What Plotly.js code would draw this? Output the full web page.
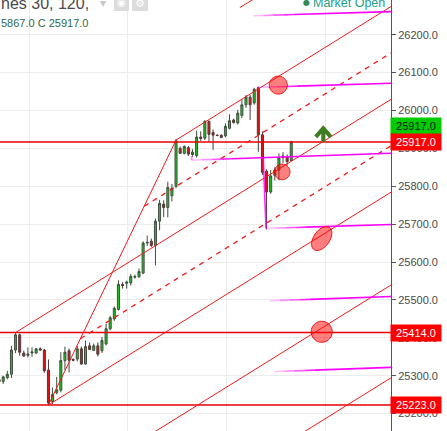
<!DOCTYPE html>
<html>
<head>
<meta charset="utf-8">
<script src="https://cdn.plot.ly/plotly-3.0.1.min.js"></script>
<style>
  html, body { margin: 0; padding: 0; background: #fff; }
  #chart { width: 447px; height: 431px; }
</style>
</head>
<body>
<div id="chart"></div>
<script>
// Dow Jones 30, 120-minute bars (bar number on x, oldest first)
const bars  = [0,1,2,3,4,5,6,7,8,9,10,11,12,13,14,15,16,17,18,19,20,21,22,23,24,25,26,27,28,29,30,31,32,33,34,35,
               36,37,38,39,40,41,42,43,44,45,46,47,48,49,50,51,52,53,54,55,56,57,58,59,60,61,62,63,64,65,66,67,68,69,70,71];
const open  = [25290,25285,25295,25304,25368,25408,25360,25354,25360,25360,25371,25368,25315,25232,25255,25262,25340,25366,
               25343,25344,25371,25331,25379,25367,25379,25366,25384,25424,25450,25475,25541,25544,25545,25560,25561,25571,
               25650,25655,25644,25708,25753,25744,25775,25800,25900,25887,25902,25884,25881,25930,25927,25971,25942,25935,
               25935,25933,25953,25975,25967,25987,26015,26035,26020,26060,25936,25840,25785,25829,25843,25880,25877,25868];
const high  = [25294,25300,25313,25379,25414,25411,25366,25375,25375,25373,25375,25371,25343,25269,25297,25362,25377,25372,
               25346,25379,25377,25393,25388,25385,25388,25402,25437,25458,25483,25552,25547,25551,25569,25567,25583,25655,
               25670,25662,25715,25764,25763,25812,25806,25925,25905,25908,25906,25898,25947,25945,25975,25974,25950,25937,
               25937,25966,25990,25978,26002,26030,26041,26041,26060,26063,25945,25845,25843,25850,25887,25890,25884,25920];
const low   = [25280,25278,25291,25294,25360,25353,25350,25348,25350,25357,25366,25308,25223,25225,25251,25256,25315,25309,
               25338,25338,25329,25329,25368,25365,25351,25360,25380,25420,25445,25472,25530,25530,25538,25556,25559,25568,
               25643,25640,25591,25684,25719,25718,25760,25795,25885,25884,25880,25878,25876,25920,25922,25918,25896,25932,
               25927,25929,25950,25966,25963,25980,26007,25975,26015,25891,25830,25686,25780,25815,25816,25862,25855,25867];
const close = [25284,25297,25304,25368,25408,25362,25352,25357,25363,25371,25368,25313,25228,25251,25263,25340,25362,25341,
               25341,25371,25331,25377,25369,25379,25357,25393,25424,25453,25478,25541,25538,25547,25562,25562,25575,25650,
               25652,25644,25708,25755,25744,25797,25795,25920,25887,25905,25885,25890,25930,25926,25971,25937,25935,25934,
               25929,25958,25973,25968,25993,26015,26035,26015,26056,25936,25837,25785,25827,25843,25876,25876,25865,25917];

// Session separators (vertical grid)
const sessionBreaks = [7.3, 31.3, 55.3, 79.3];

// Horizontal price levels
const levelPrices = [25917, 25414, 25223];

// Pitchfork anchors: pivot, upper, lower
const forkBars   = [4, 43, 12];
const forkPrices = [25414, 25922, 25223];
const forkLevels = [0.5, 1, 2, 3];

// Projection rays (magenta)
const rayStartBar   = [61.8, 62.6, 46.8, 64.9, 65.8, 66.9];
const rayStartPrice = [26250, 26061, 25869, 25689, 25498, 25311];
const rayEndPrice   = [26261, 26072, 25887, 25699, 25509, 25322];

// Highlight markers: bar, price, radius a, radius b (px), tilt (deg)
const markBar   = [67.85, 68.8, 78.4, 78.4];
const markPrice = [26067, 25838, 25662, 25416];
const markA     = [9, 7.8, 13.5, 10.5];
const markB     = [9, 7.8, 8, 10.5];
const markTilt  = [0, 0, 55, 0];

const xRange = [0.22, 95.24];
const yRange = [25154.2, 26291.6];
const plotW = 391, plotH = 431;
const pxPerBar = plotW / (xRange[1] - xRange[0]);
const unitsPerPx = (yRange[1] - yRange[0]) / plotH;

const RED = '#f01a1a';
const shapes = [];

// horizontal levels
levelPrices.forEach(p => shapes.push({
  type: 'line', xref: 'paper', x0: 0, x1: 1, yref: 'y', y0: p, y1: p,
  line: { color: '#e80000', width: 1.5 }
}));

// pitchfork
(function () {
  const A = { k: forkBars[0], p: forkPrices[0] };
  const B = { k: forkBars[1], p: forkPrices[1] };
  const C = { k: forkBars[2], p: forkPrices[2] };
  const M = { k: (B.k + C.k) / 2, p: (B.p + C.p) / 2 };
  const slope = (M.p - A.p) / (M.k - A.k);
  const xEnd = 130;
  const ray = (s, dash) => shapes.push({
    type: 'line', xref: 'x', yref: 'y', x0: s.k, y0: s.p, x1: xEnd, y1: s.p + slope * (xEnd - s.k),
    line: { color: RED, width: dash ? 1.3 : 1, dash: dash ? '5px,5px' : 'solid' }
  });
  ray(A, false);
  shapes.push({ type: 'line', xref: 'x', yref: 'y', x0: B.k, y0: B.p, x1: C.k, y1: C.p,
                line: { color: RED, width: 1 } });
  forkLevels.forEach(L => {
    [B, C].forEach(S => {
      ray({ k: M.k + L * (S.k - M.k), p: M.p + L * (S.p - M.p) }, L === 0.5);
    });
  });
})();

// magenta rays, fading in over their first ~40px
rayStartBar.forEach((k0, i) => {
  const p0 = rayStartPrice[i], k1 = xRange[1], p1 = rayEndPrice[i];
  const at = t => ({ k: k0 + (k1 - k0) * t, p: p0 + (p1 - p0) * t });
  const lenPx = (k1 - k0) * pxPerBar;
  const f = Math.min(0.6, 40 / lenPx);
  const steps = [[0, 0.25 * f, 0.25], [0.25 * f, 0.5 * f, 0.45], [0.5 * f, 0.75 * f, 0.65], [0.75 * f, f, 0.85], [f, 1, 1]];
  steps.forEach(([a, b, op]) => {
    const s = at(a), e = at(b);
    shapes.push({ type: 'line', xref: 'x', yref: 'y', x0: s.k, y0: s.p, x1: e.k, y1: e.p,
                  line: { color: `rgba(255,0,255,${op})`, width: 1.6 } });
  });
});
// magenta connectors
shapes.push({ type: 'line', xref: 'x', yref: 'y', x0: 64.2, y0: 25875, x1: 64.86, y1: 25689,
              line: { color: 'rgba(255,0,255,0.85)', width: 1.6 } });
shapes.push({ type: 'line', xref: 'x', yref: 'y', x0: 46.8, y0: 25880, x1: 46.8, y1: 25869,
              line: { color: 'rgba(255,0,255,0.5)', width: 1.6 } });

// highlight ellipses
function ellipsePath(kc, pc, a, b, deg) {
  const t = deg * Math.PI / 180;
  let d = '';
  for (let i = 0; i <= 60; i++) {
    const u = 2 * Math.PI * i / 60;
    const dx = a * Math.cos(u) * Math.cos(t) - b * Math.sin(u) * Math.sin(t);
    const dy = a * Math.cos(u) * Math.sin(t) + b * Math.sin(u) * Math.cos(t);
    d += (i ? 'L' : 'M') + (kc + dx / pxPerBar).toFixed(4) + ',' + (pc + dy * unitsPerPx).toFixed(2);
  }
  return d + 'Z';
}
markBar.forEach((k, i) => shapes.push({
  type: 'path', xref: 'x', yref: 'y',
  path: ellipsePath(k, markPrice[i], markA[i], markB[i], markTilt[i]),
  fillcolor: 'rgba(255,0,0,0.5)', line: { color: 'rgba(235,0,0,0.9)', width: 1 }
}));

// up arrow
(function () {
  const kc = 78.78, pc = 25937;
  const pt = (dx, dy) => (kc + dx / pxPerBar).toFixed(4) + ',' + (pc - dy * unitsPerPx).toFixed(2);
  shapes.push({
    type: 'path', xref: 'x', yref: 'y',
    path: 'M' + pt(-7.5, 2.5) + 'L' + pt(0, -6) + 'L' + pt(7.5, 2.5) + 'M' + pt(0, -5) + 'L' + pt(0, 7.5),
    line: { color: '#3e7c22', width: 4 }
  });
})();

// toolbar boxes
shapes.push({ type: 'rect', xref: 'paper', yref: 'paper', x0: 114 / plotW, x1: 129 / plotW, y0: 1 - 11 / plotH, y1: 1.02,
              fillcolor: '#dcdcdc', line: { width: 0 } });
shapes.push({ type: 'rect', xref: 'paper', yref: 'paper', x0: 132 / plotW, x1: 148 / plotW, y0: 1 - 11 / plotH, y1: 1.02,
              fillcolor: '#dcdcdc', line: { width: 0 } });

const FONT = 'Liberation Sans, Arial, sans-serif';
const annotations = [];
const lastPrice = close[close.length - 1];
const priceTag = (p, bg, fg, shift) => ({
  xref: 'paper', x: 1, xanchor: 'left', xshift: -1, yref: 'y', y: p, yanchor: 'middle', yshift: shift,
  text: p.toFixed(1), showarrow: false, bgcolor: bg, width: 48, height: 14, borderpad: 1, align: 'center',
  font: { family: FONT, size: 11, color: fg }
});
annotations.push(priceTag(lastPrice, '#00cc00', '#111111', 15.5));
levelPrices.forEach(p => annotations.push(priceTag(p, '#ff0000', '#ffffff', 0)));

// header
annotations.push({ xref: 'paper', yref: 'paper', x: 0, y: 1, xanchor: 'left', yanchor: 'top', yshift: 7, xshift: -1,
  text: 'nes 30, 120,', showarrow: false, font: { family: FONT, size: 16, color: '#4a4a4a' } });
annotations.push({ xref: 'paper', yref: 'paper', x: 98 / plotW, y: 1, xanchor: 'left', yanchor: 'top', yshift: 6,
  text: '▾', showarrow: false, font: { family: 'DejaVu Sans', size: 12, color: '#c8c8c8' } });
annotations.push({ xref: 'paper', yref: 'paper', x: 0, y: 1, xanchor: 'left', yanchor: 'top', yshift: -15, xshift: -1,
  text: '5867.0 C 25917.0', showarrow: false, font: { family: FONT, size: 11, color: '#2f6a4c' } });
annotations.push({ xref: 'paper', yref: 'paper', x: 121.5 / plotW, y: 1, xanchor: 'center', yanchor: 'top', yshift: 5,
  text: '◉', showarrow: false, font: { family: 'DejaVu Sans', size: 10, color: '#ffffff' } });
annotations.push({ xref: 'paper', yref: 'paper', x: 140 / plotW, y: 1, xanchor: 'center', yanchor: 'top', yshift: 5,
  text: '⚙', showarrow: false, font: { family: 'DejaVu Sans', size: 11, color: '#ffffff' } });
annotations.push({ xref: 'paper', yref: 'paper', x: 301 / plotW, y: 1, xanchor: 'left', yanchor: 'top', yshift: 4,
  text: '●', showarrow: false, font: { family: 'DejaVu Sans', size: 8, color: '#2e8b57' } });
annotations.push({ xref: 'paper', yref: 'paper', x: 311 / plotW, y: 1, xanchor: 'left', yanchor: 'top', yshift: 6,
  text: 'Market Open', showarrow: false, font: { family: FONT, size: 12.5, color: '#23a08c' } });

const trace = {
  type: 'candlestick', x: bars, open: open, high: high, low: low, close: close,
  increasing: { line: { color: '#3f4f3f', width: 1 }, fillcolor: '#1ec41e' },
  decreasing: { line: { color: '#4f3a3a', width: 1 }, fillcolor: '#e31212' },
  whiskerwidth: 0, hoverinfo: 'skip', showlegend: false
};

const layout = {
  width: 447, height: 431,
  margin: { l: 0, r: 56, t: 0, b: 0, pad: 0 },
  paper_bgcolor: '#ffffff', plot_bgcolor: '#ffffff',
  showlegend: false,
  xaxis: {
    range: xRange, rangeslider: { visible: false }, tickvals: sessionBreaks, showticklabels: false,
    ticks: '', showgrid: true, gridcolor: '#ececec', zeroline: false, showline: false, fixedrange: true
  },
  yaxis: {
    side: 'right', range: yRange, dtick: 100, tick0: 0, tickformat: '.1f',
    ticks: 'outside', ticklen: 4, tickcolor: '#555555', showline: true, linecolor: '#555555', linewidth: 1,
    showgrid: true, gridcolor: '#ececec', zeroline: false,
    tickfont: { family: FONT, size: 11, color: '#4a4a4a' }, fixedrange: true
  },
  shapes: shapes,
  annotations: annotations
};

Plotly.newPlot('chart', [trace], layout, { displayModeBar: false, staticPlot: true });
</script>
</body>
</html>
